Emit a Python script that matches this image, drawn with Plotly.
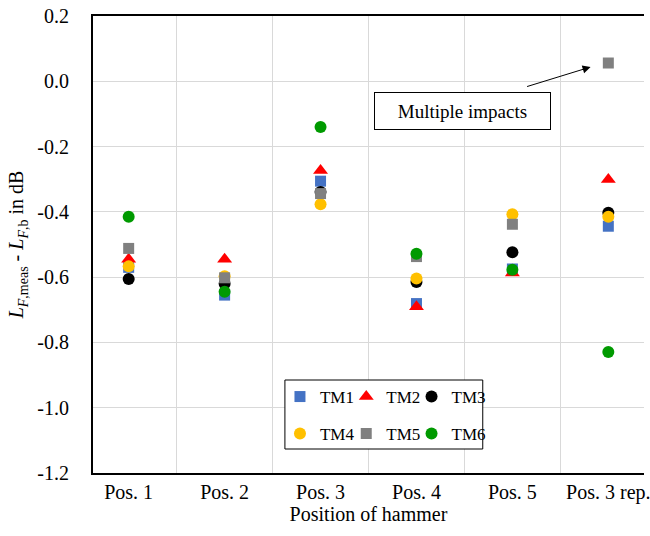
import plotly.graph_objects as go

categories = ["Pos. 1", "Pos. 2", "Pos. 3", "Pos. 4", "Pos. 5", "Pos. 3 rep."]
series_names = ["TM1", "TM2", "TM3", "TM4", "TM5", "TM6"]
tm1 = [-0.570, -0.655, -0.306, -0.681, -0.575, -0.444]
tm2 = [-0.545, -0.545, -0.273, -0.691, -0.587, -0.301]
tm3 = [-0.606, -0.620, -0.339, -0.615, -0.524, -0.403]
tm4 = [-0.567, -0.597, -0.377, -0.604, -0.407, -0.415]
tm5 = [-0.512, -0.602, -0.344, -0.537, -0.438, 0.056]
tm6 = [-0.415, -0.645, -0.140, -0.528, -0.577, -0.829]
series_values = [tm1, tm2, tm3, tm4, tm5, tm6]
y_ticks = [-1.2, -1.0, -0.8, -0.6, -0.4, -0.2, 0.0, 0.2]

colors = ["#4472C4", "#FF0000", "#000000", "#FFC000", "#808080", "#009A00"]
symbols = ["square", "triangle-up", "circle", "circle", "square", "circle"]
sizes = [11, 13, 12, 12, 11, 12]
FONT = "Liberation Serif"

W, H = 650, 536
ml, mr, mt, mb = 93, 0, 16, 63
pw, ph = W - ml - mr, H - mt - mb

def px_x(p):
    return (p - ml) / pw

def px_y(p):
    return (H - mb - p) / ph

legend_ids = ["legend", "legend2", "legend3", "legend4", "legend5", "legend6"]
leg_px = [(282, 397), (349, 397), (415, 397), (282, 434), (349, 434), (415, 434)]

fig = go.Figure()
for i, (name, vals) in enumerate(zip(series_names, series_values)):
    fig.add_trace(go.Scatter(
        x=categories, y=vals, mode="markers", name=name, showlegend=True,
        marker=dict(symbol=symbols[i], color=colors[i], size=sizes[i], line=dict(width=0)),
        legend=legend_ids[i],
    ))

legends = {}
for lid, (lx, ly) in zip(legend_ids, leg_px):
    legends[lid] = dict(
        orientation="h", bgcolor="rgba(0,0,0,0)", borderwidth=0,
        font=dict(family=FONT, size=17, color="black"), itemwidth=30,
        x=px_x(lx), y=px_y(ly), xanchor="left", yanchor="middle",
    )

fig.update_layout(
    width=W, height=H, showlegend=True,
    margin=dict(l=ml, r=mr, t=mt, b=mb),
    plot_bgcolor="white", paper_bgcolor="white",
    font=dict(family=FONT, size=20, color="black"),
    xaxis=dict(
        type="category", tickson="boundaries", showgrid=True, gridcolor="#D9D9D9", gridwidth=1,
        showline=True, linecolor="black", linewidth=2, mirror=True, ticks="",
        tickfont=dict(family=FONT, size=20, color="black"),
        title=dict(text="Position of hammer", font=dict(family=FONT, size=20, color="black"), standoff=4),
    ),
    yaxis=dict(
        range=[-1.2, 0.2], tickvals=y_ticks, ticktext=[f"{v:.1f}" for v in y_ticks],
        showgrid=True, gridcolor="#D9D9D9", gridwidth=1, zeroline=False,
        showline=True, linecolor="black", linewidth=2, mirror=False, ticks="",
        ticklabelstandoff=18,
        tickfont=dict(family=FONT, size=20, color="black"),
        title=dict(text="<i>L</i><sub><i>F</i>,meas</sub> - <i>L</i><sub><i>F</i>,b</sub> in dB",
                   font=dict(family=FONT, size=20, color="black"), standoff=8),
    ),
    shapes=[dict(type="rect", xref="paper", yref="paper",
                 x0=px_x(287), x1=px_x(487), y0=px_y(449), y1=px_y(380),
                 line=dict(color="black", width=1), fillcolor="white", layer="above")],
    annotations=[
        dict(xref="paper", yref="paper", x=px_x(466.5), y=px_y(111), text="Multiple impacts",
             showarrow=False, font=dict(family=FONT, size=19, color="black"),
             bordercolor="black", borderwidth=1, borderpad=5, bgcolor="white",
             width=165, height=26, xanchor="center", yanchor="middle"),
        dict(xref="paper", yref="paper", x=px_x(596), y=px_y(67),
             axref="pixel", ayref="pixel", ax=-65, ay=20, text="",
             showarrow=True, arrowhead=2, arrowsize=1.6, arrowwidth=1, arrowcolor="black"),
    ],
    **legends,
)

fig.write_html("out.html")
